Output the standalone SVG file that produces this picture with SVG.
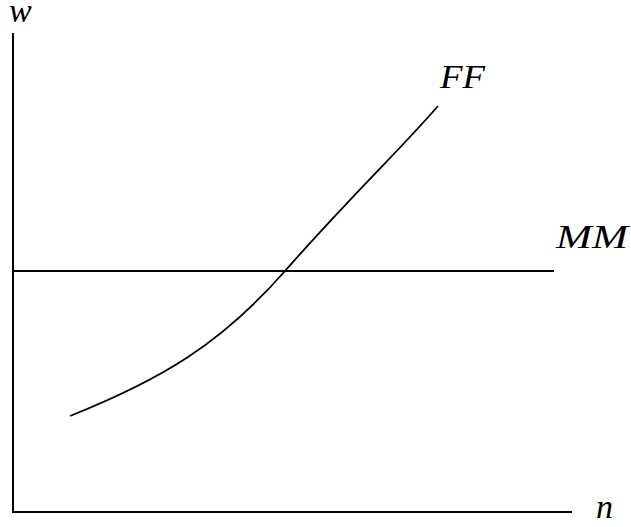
<svg xmlns="http://www.w3.org/2000/svg" width="631" height="527" viewBox="0 0 631 527">
<style>
.ax{stroke:#000;stroke-width:2;fill:none}
.ln{stroke:#000;stroke-width:1.8;fill:none}
.lb{font-family:"Liberation Serif","Times New Roman",serif;font-style:italic;font-size:34px;fill:#000}
</style>
<rect width="631" height="527" fill="#fff"/>
<g id="axes">
<line class="ax" x1="13" y1="33" x2="13" y2="513"/>
<line class="ax" x1="12" y1="512" x2="572" y2="512"/>
<text class="lb" x="9" y="22">w</text>
<text class="lb" x="596" y="518">n</text>
</g>
<g id="connectors">
<line id="MM-line" class="ln" x1="13" y1="271" x2="554" y2="271"/>
<path id="FF-curve" class="ln" d="M70,416 C160,380 220,345 285,271 S400,150 438,106"/>
</g>
<g id="MM"><text class="lb" x="556" y="248" textLength="72" lengthAdjust="spacingAndGlyphs">MM</text></g>
<g id="FF"><text class="lb" x="440" y="88" textLength="45" lengthAdjust="spacingAndGlyphs">FF</text></g>
</svg>
